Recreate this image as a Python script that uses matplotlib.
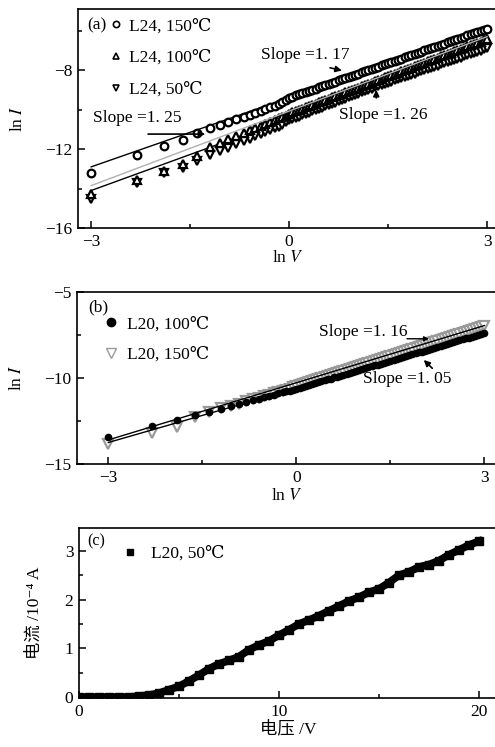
import matplotlib
matplotlib.use("Agg")
import matplotlib.pyplot as plt
from matplotlib.lines import Line2D
from matplotlib.ticker import MultipleLocator

plt.rcParams['font.family'] = ['Liberation Serif', 'DejaVu Serif', 'Noto Sans CJK SC']
plt.rcParams['mathtext.fontset'] = 'stix'
plt.rcParams['axes.unicode_minus'] = True

# ---------------- data ----------------
lnv = [-3.0, -2.3, -1.9, -1.61, -1.39, -1.2, -1.05, -0.92, -0.8, -0.69, -0.6, -0.51,
       -0.43, -0.36, -0.29, -0.22, -0.16, -0.11, -0.05,
       0.00, 0.05, 0.10, 0.15, 0.20, 0.25, 0.30, 0.35, 0.40, 0.45, 0.50, 0.55, 0.60, 0.65,
       0.70, 0.75, 0.80, 0.85, 0.90, 0.95, 1.00, 1.05, 1.10, 1.15, 1.20, 1.25, 1.30, 1.35,
       1.40, 1.45, 1.50, 1.55, 1.60, 1.65, 1.70, 1.75, 1.80, 1.85, 1.90, 1.95, 2.00, 2.05,
       2.10, 2.15, 2.20, 2.25, 2.30, 2.35, 2.40, 2.45, 2.50, 2.55, 2.60, 2.65, 2.70, 2.75,
       2.80, 2.85, 2.90, 2.95, 3.00]

# panel (a): L24
a_150 = [-13.2, -12.3, -11.85, -11.55, -11.2, -10.95, -10.8, -10.62, -10.5, -10.38, -10.25,
         -10.15, -10.05, -9.98, -9.88, -9.8, -9.7, -9.62, -9.52,
         -9.40, -9.34, -9.28, -9.23, -9.16, -9.11, -9.05, -8.99, -8.93, -8.87, -8.82, -8.76,
         -8.70, -8.64, -8.58, -8.52, -8.47, -8.41, -8.35, -8.29, -8.23, -8.17, -8.11, -8.06,
         -8.00, -7.94, -7.88, -7.82, -7.76, -7.70, -7.65, -7.59, -7.53, -7.47, -7.41, -7.35,
         -7.30, -7.24, -7.18, -7.12, -7.06, -7.00, -6.94, -6.89, -6.83, -6.77, -6.71, -6.65,
         -6.59, -6.53, -6.48, -6.42, -6.36, -6.30, -6.24, -6.18, -6.12, -6.06, -6.01, -5.95,
         -5.89]
a_100 = [-14.3, -13.55, -13.1, -12.75, -12.35, -11.9, -11.68, -11.48, -11.32, -11.17, -11.05,
         -10.93, -10.82, -10.72, -10.62, -10.52, -10.44, -10.37, -10.3,
         -10.20, -10.14, -10.07, -10.01, -9.95, -9.89, -9.82, -9.76, -9.70, -9.63, -9.57,
         -9.51, -9.44, -9.38, -9.32, -9.26, -9.19, -9.13, -9.07, -9.00, -8.94, -8.88, -8.81,
         -8.75, -8.69, -8.63, -8.56, -8.50, -8.44, -8.37, -8.31, -8.25, -8.18, -8.12, -8.06,
         -8.00, -7.93, -7.87, -7.81, -7.74, -7.68, -7.62, -7.55, -7.49, -7.43, -7.37, -7.30,
         -7.24, -7.18, -7.11, -7.05, -6.99, -6.92, -6.86, -6.80, -6.74, -6.67, -6.61, -6.55,
         -6.48, -6.42]
a_50 = [-14.55, -13.7, -13.2, -12.95, -12.6, -12.3, -12.1, -11.92, -11.75, -11.6, -11.48,
        -11.36, -11.25, -11.15, -11.05, -10.95, -10.86, -10.78, -10.64,
        -10.55, -10.48, -10.42, -10.35, -10.29, -10.22, -10.16, -10.09, -10.03, -9.96, -9.90,
        -9.84, -9.77, -9.71, -9.64, -9.58, -9.51, -9.45, -9.38, -9.32, -9.26, -9.19, -9.13,
        -9.06, -9.00, -8.93, -8.87, -8.81, -8.75, -8.69, -8.64, -8.58, -8.52, -8.46, -8.40,
        -8.35, -8.29, -8.23, -8.17, -8.11, -8.06, -8.00, -7.94, -7.88, -7.82, -7.77, -7.71,
        -7.65, -7.59, -7.53, -7.48, -7.42, -7.36, -7.30, -7.24, -7.19, -7.13, -7.07, -7.01,
        -6.95, -6.90]
fit_x = [-3.0, 3.0]
a_fit_150 = [-12.9, -5.9]
a_fit_100 = [-13.85, -6.3]
a_fit_50 = [-14.1, -6.8]

# panel (b): L20
b_100 = [-13.45, -12.8, -12.45, -12.15, -11.95, -11.78, -11.63, -11.52, -11.4, -11.3, -11.2,
         -11.12, -11.04, -10.97, -10.9, -10.84, -10.78, -10.73, -10.68,
         -10.62, -10.57, -10.51, -10.46, -10.40, -10.35, -10.30, -10.24, -10.19, -10.13,
         -10.08, -10.03, -9.97, -9.92, -9.86, -9.81, -9.76, -9.70, -9.65, -9.59, -9.54, -9.49,
         -9.43, -9.38, -9.32, -9.27, -9.22, -9.16, -9.11, -9.05, -9.00, -8.95, -8.89, -8.84,
         -8.78, -8.73, -8.68, -8.62, -8.57, -8.51, -8.46, -8.41, -8.35, -8.30, -8.24, -8.19,
         -8.14, -8.08, -8.03, -7.97, -7.92, -7.87, -7.81, -7.76, -7.70, -7.65, -7.60, -7.54,
         -7.49, -7.43, -7.38]
b_150 = [-13.85, -13.2, -12.85, -12.25, -11.95, -11.75, -11.6, -11.5, -11.35, -11.25, -11.15,
         -11.05, -10.97, -10.9, -10.82, -10.75, -10.68, -10.62, -10.55,
         -10.48, -10.42, -10.36, -10.30, -10.24, -10.19, -10.13, -10.07, -10.01, -9.95, -9.89,
         -9.83, -9.77, -9.72, -9.66, -9.60, -9.54, -9.48, -9.42, -9.36, -9.30, -9.25, -9.19,
         -9.13, -9.07, -9.01, -8.95, -8.89, -8.83, -8.78, -8.72, -8.66, -8.60, -8.54, -8.48,
         -8.42, -8.36, -8.31, -8.25, -8.19, -8.13, -8.07, -8.01, -7.95, -7.89, -7.84, -7.78,
         -7.72, -7.66, -7.60, -7.54, -7.48, -7.42, -7.37, -7.31, -7.25, -7.19, -7.13, -7.07,
         -7.01, -6.95]
b_fit_upper = [-13.6, -6.95]
b_fit_lower = [-13.75, -7.45]

# panel (c): L20, 50C, I-V
volt = [0.0, 0.5, 1.0, 1.5, 2.0, 2.5, 3.0, 3.5, 4.0, 4.5, 5.0, 5.5, 6.0, 6.5, 7.0, 7.5, 8.0,
        8.5, 9.0, 9.5, 10.0, 10.5, 11.0, 11.5, 12.0, 12.5, 13.0, 13.5, 14.0, 14.5, 15.0, 15.5,
        16.0, 16.5, 17.0, 17.5, 18.0, 18.5, 19.0, 19.5, 20.0]
curr = [0.0, 0.0, 0.0, 0.0, 0.0, 0.0, 0.02, 0.04, 0.08, 0.15, 0.22, 0.33, 0.45, 0.58, 0.68,
        0.75, 0.83, 0.97, 1.07, 1.15, 1.27, 1.38, 1.5, 1.58, 1.67, 1.77, 1.87, 1.97, 2.05,
        2.15, 2.22, 2.35, 2.5, 2.57, 2.67, 2.72, 2.8, 2.92, 3.02, 3.12, 3.2]

lab_a = ['L24, 150℃', 'L24, 100℃', 'L24, 50℃']
lab_b = ['L20, 100℃', 'L20, 150℃']
lab_c = ['L20, 50℃']

FS = 12.5

fig = plt.figure(figsize=(4.95, 7.47), dpi=100)
W, H = 495.0, 747.0

def add_ax(l, t, r, b):
    return fig.add_axes([l / W, 1 - b / H, (r - l) / W, (b - t) / H])

def style(ax):
    for s in ['left', 'bottom', 'top']:
        ax.spines[s].set_linewidth(1.2)
    ax.spines['right'].set_visible(False)
    ax.tick_params(which='both', direction='in', top=False, right=False, labelsize=FS,
                   width=1.1)
    ax.tick_params(which='major', length=5, pad=4)
    ax.tick_params(which='minor', length=3)

# ---------- (a) ----------
axa = add_ax(78, 9, 497, 228)
style(axa)
axa.plot(fit_x, a_fit_150, color='black', lw=1.0, zorder=1)
axa.plot(fit_x, a_fit_50, color='black', lw=1.0, zorder=1)
mk = dict(linestyle='none', markersize=5.5, markeredgewidth=1.6, markerfacecolor='white',
          markeredgecolor='black', zorder=2)
axa.plot(lnv, a_50, marker='v', **mk)
axa.plot(lnv, a_100, marker='^', **mk)
axa.plot(lnv, a_150, marker='o', **mk)
axa.plot(fit_x, a_fit_100, color='#b0b0b0', lw=1.0, zorder=3)
axa.set_xlim(-3.2, 3.15)
axa.set_ylim(-16, -4.9)
axa.xaxis.set_major_locator(MultipleLocator(3))
axa.xaxis.set_minor_locator(MultipleLocator(1.5))
axa.yaxis.set_major_locator(MultipleLocator(4))
axa.yaxis.set_minor_locator(MultipleLocator(2))
axa.set_xlabel('ln $V$', fontsize=FS, labelpad=0)
axa.set_ylabel('ln $I$', fontsize=FS, labelpad=14)
axa.text(0.022, 0.927, '(a)', transform=axa.transAxes, fontsize=FS, va='center', ha='left')
ha = [Line2D([], [], marker=m, linestyle='none', markersize=4.5, markerfacecolor='white',
             markeredgecolor='black', markeredgewidth=1.2) for m in ['o', '^', 'v']]
axa.legend(ha, lab_a, loc='upper left', bbox_to_anchor=(0.075, 0.958), frameon=False,
           fontsize=FS, handlelength=0.8, handletextpad=0.3, labelspacing=0.9,
           borderaxespad=0, borderpad=0)
arw = dict(arrowstyle='-|>', color='black', lw=1.2, mutation_scale=9)
axa.annotate('', xy=(-1.23, -11.24), xytext=(-2.18, -11.24), arrowprops=arw)
axa.text(-2.98, -10.43, 'Slope =1. 25', fontsize=FS, va='center', ha='left')
axa.annotate('', xy=(0.84, -8.05), xytext=(0.58, -7.85), arrowprops=arw, zorder=4)
axa.text(-0.43, -7.24, 'Slope =1. 17', fontsize=FS, va='center', ha='left')
axa.annotate('', xy=(1.32, -8.86), xytext=(1.32, -9.55), arrowprops=arw, zorder=4)
axa.text(0.76, -10.28, 'Slope =1. 26', fontsize=FS, va='center', ha='left')

# ---------- (b) ----------
axb = add_ax(77, 292, 497, 464)
style(axb)
axb.plot(lnv, b_150, marker='v', linestyle='none', markersize=7, markeredgewidth=1.6,
         markerfacecolor='white', markeredgecolor='#9a9a9a', zorder=2)
axb.plot(lnv, b_100, marker='o', linestyle='none', markersize=4.5, color='black', zorder=2)
axb.plot(fit_x, b_fit_upper, color='black', lw=1.0, zorder=3)
axb.plot(fit_x, b_fit_lower, color='black', lw=1.0, zorder=3)
axb.set_xlim(-3.5, 3.2)
axb.set_ylim(-15, -5)
axb.xaxis.set_major_locator(MultipleLocator(3))
axb.xaxis.set_minor_locator(MultipleLocator(1.5))
axb.yaxis.set_major_locator(MultipleLocator(5))
axb.yaxis.set_minor_locator(MultipleLocator(2.5))
axb.set_xlabel('ln $V$', fontsize=FS, labelpad=2)
axb.set_ylabel('ln $I$', fontsize=FS, labelpad=14)
axb.text(0.026, 0.91, '(b)', transform=axb.transAxes, fontsize=FS, va='center', ha='left')
hb = [Line2D([], [], marker='o', linestyle='none', markersize=6, color='black'),
      Line2D([], [], marker='v', linestyle='none', markersize=6.5, markerfacecolor='white',
             markeredgecolor='#9a9a9a', markeredgewidth=1.0)]
axb.legend(hb, lab_b, loc='upper left', bbox_to_anchor=(0.065, 0.86), frameon=False,
           fontsize=FS, handlelength=0.8, handletextpad=0.5, labelspacing=0.82,
           borderaxespad=0, borderpad=0)
axb.annotate('', xy=(2.16, -7.72), xytext=(1.72, -7.72),
             arrowprops=dict(arrowstyle='-|>', color='black', lw=1.0, mutation_scale=7),
             zorder=4)
axb.text(0.36, -7.33, 'Slope =1. 16', fontsize=FS, va='center', ha='left')
axb.annotate('', xy=(2.0, -8.84), xytext=(2.2, -9.55), arrowprops=arw, zorder=4)
axb.text(1.06, -10.06, 'Slope =1. 05', fontsize=FS, va='center', ha='left')

# ---------- (c) ----------
axc = add_ax(79, 528, 497, 698)
style(axc)
axc.plot(volt, curr, color='black', lw=5.5, solid_joinstyle='miter')
axc.plot(volt, curr, marker='s', linestyle='none', markersize=5.5, color='black')
axc.set_xlim(0, 20.9)
axc.set_ylim(-0.02, 3.47)
axc.xaxis.set_major_locator(MultipleLocator(10))
axc.xaxis.set_minor_locator(MultipleLocator(5))
axc.yaxis.set_major_locator(MultipleLocator(1))
axc.yaxis.set_minor_locator(MultipleLocator(0.5))
axc.set_xlabel('电压 /V', fontsize=FS, labelpad=1)
axc.set_ylabel('电流 /10⁻⁴ A', fontsize=FS, labelpad=16)
axc.text(0.02, 0.92, '(c)', transform=axc.transAxes, fontsize=FS - 1, va='center', ha='left')
hc = [Line2D([], [], marker='s', linestyle='none', markersize=5, color='black')]
axc.legend(hc, lab_c, loc='upper left', bbox_to_anchor=(0.105, 0.895), frameon=False,
           fontsize=FS, handlelength=0.8, handletextpad=0.8, borderaxespad=0, borderpad=0)

fig.savefig('out.png', dpi=100)
